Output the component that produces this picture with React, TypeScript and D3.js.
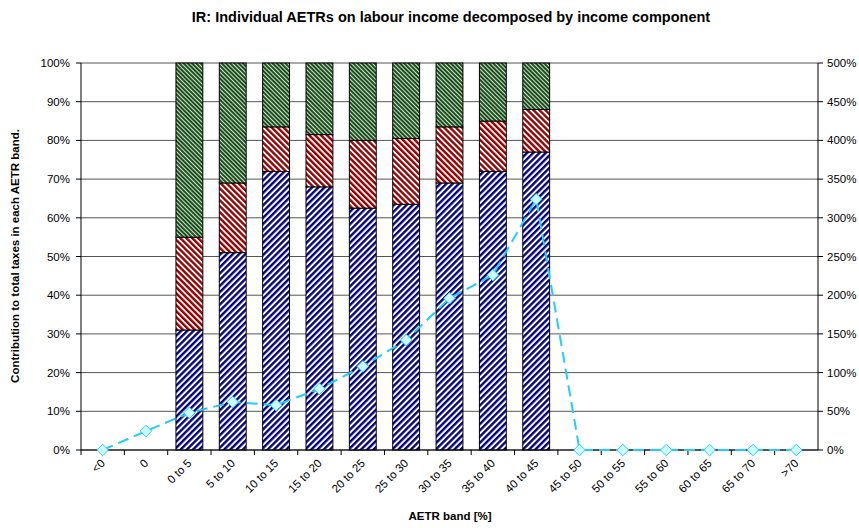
import React from "react";
import * as d3 from "d3";

const categories = ["<0", "0", "0 to 5", "5 to 10", "10 to 15", "15 to 20", "20 to 25", "25 to 30", "30 to 35", "35 to 40", "40 to 45", "45 to 50", "50 to 55", "55 to 60", "60 to 65", "65 to 70", ">70"];
// stacked shares (%), null = no bar
const blueShare = [null, null, 31, 51, 72, 68, 62.5, 63.5, 69, 72, 77, null, null, null, null, null, null];
const redShare = [null, null, 24, 18, 11.5, 13.5, 17.5, 17, 14.5, 13, 11, null, null, null, null, null, null];
const greenShare = [null, null, 45, 31, 16.5, 18.5, 20, 19.5, 16.5, 15, 12, null, null, null, null, null, null];
// line on right axis (%)
const lineValues = [0, 24.5, 48, 62, 58, 79, 108, 142, 196, 226, 324, 0, 0, 0, 0, 0, 0];
const leftTicks = [0, 10, 20, 30, 40, 50, 60, 70, 80, 90, 100];
const rightTicks = [0, 50, 100, 150, 200, 250, 300, 350, 400, 450, 500];

const W = 859, H = 528;
const L = 81, R = 818, T = 63, B = 450;
const FONT = "'Liberation Sans', Arial, sans-serif";

export default function App() {
  const x = d3.scaleBand<string>().domain(categories).range([L, R]).paddingInner(0.38).paddingOuter(0.19);
  const xb = d3.scaleBand<string>().domain(categories).range([L, R]);
  const yL = d3.scaleLinear().domain([0, 100]).range([B, T]);
  const yR = d3.scaleLinear().domain([0, 500]).range([B, T]);

  const line = d3.line<number>()
    .x((_, i) => (xb(categories[i]) as number) + xb.bandwidth() / 2)
    .y((d) => yR(d));

  const diamond = d3.symbol().type(d3.symbolDiamond2 || d3.symbolDiamond).size(85)();

  const bars: React.ReactNode[] = [];
  categories.forEach((c, i) => {
    const b = blueShare[i], r = redShare[i], g = greenShare[i];
    if (b == null || r == null || g == null) return;
    const x0 = x(c) as number;
    const w = x.bandwidth();
    const segs = [
      { v0: 0, v1: b, fill: "url(#pBlue)" },
      { v0: b, v1: b + r, fill: "url(#pRed)" },
      { v0: b + r, v1: b + r + g, fill: "url(#pGreen)" },
    ];
    segs.forEach((s, k) => {
      bars.push(
        <rect key={c + k} x={x0} y={yL(s.v1)} width={w} height={yL(s.v0) - yL(s.v1)} fill={s.fill} stroke="#000" strokeWidth={1} />
      );
    });
  });

  return (
    <svg width={W} height={H} style={{ position: "absolute", left: 0, top: 0, background: "#fff" }} fontFamily={FONT}>
      <defs>
        <pattern id="pBlue" patternUnits="userSpaceOnUse" width={4.4} height={4.4} patternTransform="rotate(45)">
          <rect width={4.4} height={4.4} fill="#fff" />
          <rect width={2.4} height={4.4} fill="#000080" />
        </pattern>
        <pattern id="pRed" patternUnits="userSpaceOnUse" width={4.2} height={4.2} patternTransform="rotate(-45)">
          <rect width={4.2} height={4.2} fill="#fff" />
          <rect width={2.4} height={4.2} fill="#990000" />
        </pattern>
        <pattern id="pGreen" patternUnits="userSpaceOnUse" width={3} height={3} patternTransform="rotate(-45)">
          <rect width={3} height={3} fill="#cfe0cf" />
          <rect width={2} height={3} fill="#1d4f1d" />
        </pattern>
      </defs>

      <text x={451} y={22} textAnchor="middle" fontSize={14.5} fontWeight="bold">IR: Individual AETRs on labour income decomposed by income component</text>

      {/* gridlines */}
      {leftTicks.map((t) => (
        <line key={"g" + t} x1={L} x2={R} y1={yL(t)} y2={yL(t)} stroke="#555" strokeWidth={1} />
      ))}

      {bars}

      {/* axes */}
      <line x1={L} x2={L} y1={T} y2={B} stroke="#000" />
      <line x1={R} x2={R} y1={T} y2={B} stroke="#000" />
      <line x1={L} x2={R} y1={B} y2={B} stroke="#000" />
      {leftTicks.map((t) => (
        <g key={"l" + t}>
          <line x1={L - 5} x2={L} y1={yL(t)} y2={yL(t)} stroke="#000" />
          <text x={L - 11} y={yL(t)} dy="0.35em" textAnchor="end" fontSize={11.5}>{t}%</text>
        </g>
      ))}
      {rightTicks.map((t) => (
        <g key={"r" + t}>
          <line x1={R} x2={R + 5} y1={yR(t)} y2={yR(t)} stroke="#000" />
          <text x={R + 9} y={yR(t)} dy="0.35em" textAnchor="start" fontSize={11.5}>{t}%</text>
        </g>
      ))}
      {categories.map((c, i) => (
        <line key={"xt" + i} x1={(xb(c) as number)} x2={(xb(c) as number)} y1={B} y2={B + 5} stroke="#000" />
      ))}
      {categories.map((c) => {
        const cx = (xb(c) as number) + xb.bandwidth() / 2 + 3;
        const cy = B + 14;
        return (
          <text key={"xl" + c} x={cx} y={cy} textAnchor="end" fontSize={11.5} transform={`rotate(-45, ${cx}, ${cy})`}>{c}</text>
        );
      })}

      {/* line series */}
      <path d={line(lineValues) || ""} fill="none" stroke="#22ccff" strokeWidth={2} strokeDasharray="11,6" />
      {lineValues.map((v, i) => (
        <path key={"m" + i} d={diamond || ""} transform={`translate(${(xb(categories[i]) as number) + xb.bandwidth() / 2}, ${yR(v)})`} fill="#ccffff" stroke="#22ccff" strokeWidth={1} />
      ))}

      <text x={450} y={520} textAnchor="middle" fontSize={11.5} fontWeight="bold">AETR band [%]</text>
      <text transform={`translate(19, 256) rotate(-90)`} textAnchor="middle" fontSize={11.5} fontWeight="bold">Contribution to total taxes in each AETR band.</text>
    </svg>
  );
}
